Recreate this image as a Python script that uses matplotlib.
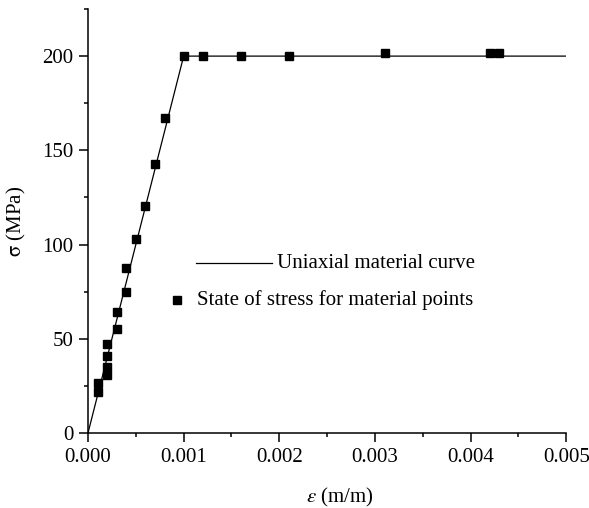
import matplotlib
matplotlib.use("Agg")
import matplotlib.pyplot as plt
from matplotlib.lines import Line2D
from matplotlib.ticker import MultipleLocator, FormatStrFormatter

plt.rcParams["font.family"] = ["Liberation Serif", "DejaVu Serif"]
plt.rcParams["mathtext.fontset"] = "stix"

# Bilinear uniaxial material law (elastic up to yield, then perfectly plastic)
curve_strain = [0.0, 0.001, 0.005]
curve_stress = [0.0, 200.0, 200.0]

# Stress state sampled at material points
point_strain = [0.0001, 0.0001, 0.0002, 0.0002, 0.0002, 0.0002, 0.0003, 0.0003,
                0.0004, 0.0004, 0.0005, 0.0006, 0.0007, 0.0008, 0.0010, 0.0012,
                0.0016, 0.0021, 0.0031, 0.0042, 0.0043]
point_stress = [21.6, 26.7, 30.6, 35.2, 40.8, 47.2, 55.0, 64.0,
                75.0, 87.7, 103.0, 120.6, 142.7, 167.0, 200.0, 200.3,
                200.3, 200.3, 201.6, 201.6, 201.6]

fig = plt.figure(figsize=(5.89, 5.08), dpi=100)
ax = fig.add_axes([0.1494, 0.1476, 0.8121, 0.8347])

ax.plot(curve_strain, curve_stress, color="black", lw=0.9, zorder=2)
ax.plot(point_strain, point_stress, ls="none", marker="s", ms=5.3,
        color="black", zorder=3)

ax.set_xlim(0, 0.005)
ax.set_ylim(0, 225)
ax.xaxis.set_major_locator(MultipleLocator(0.001))
ax.xaxis.set_minor_locator(MultipleLocator(0.0005))
ax.xaxis.set_major_formatter(FormatStrFormatter("%.3f"))
ax.yaxis.set_major_locator(MultipleLocator(50))
ax.yaxis.set_minor_locator(MultipleLocator(25))

for side in ("top", "right"):
    ax.spines[side].set_visible(False)
for side in ("left", "bottom"):
    ax.spines[side].set_linewidth(1.1)

ax.tick_params(which="major", direction="out", length=6.5, width=1.1,
               labelsize=15, pad=4)
ax.tick_params(which="minor", direction="out", length=3.2, width=1.1)
ax.margins(0)

ax.set_xlabel(r"$\varepsilon$ (m/m)", fontsize=15)
ax.set_ylabel(r"$\mathrm{\sigma}$ (MPa)", fontsize=15)
ax.xaxis.set_label_coords(0.527, -0.125)
ax.yaxis.set_label_coords(-0.125, 0.5)

# Key: line sample and marker sample with their descriptions
ax.add_line(Line2D([0.226, 0.385], [0.400, 0.400], transform=ax.transAxes,
                   color="black", lw=0.9))
ax.text(0.395, 0.400, "Uniaxial material curve", transform=ax.transAxes,
        fontsize=15, va="center", ha="left")
ax.add_line(Line2D([0.186], [0.314], transform=ax.transAxes, ls="none",
                   marker="s", ms=5.3, color="black"))
ax.text(0.228, 0.314, "State of stress for material points",
        transform=ax.transAxes, fontsize=15, va="center", ha="left")

fig.savefig("out.png", dpi=100)
